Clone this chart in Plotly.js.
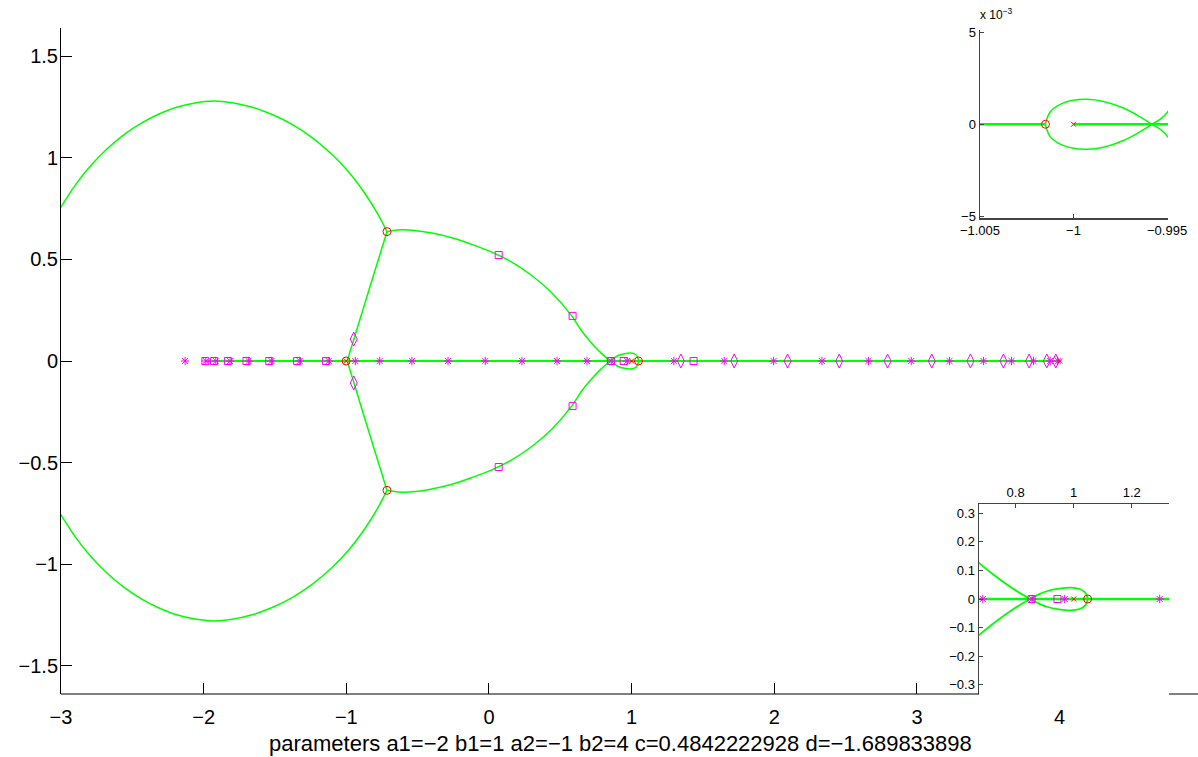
<!DOCTYPE html>
<html>
<head>
<meta charset="utf-8">
<script src="https://cdn.plot.ly/plotly-3.0.1.min.js"></script>
<style>html,body{margin:0;padding:0;background:#fff;}#chart{width:1198px;height:757px;}</style>
</head>
<body>
<div id="chart"></div>
<script>
// ---- root locus branches ----
var outerUpX = [-3.02, -2.985, -2.90, -2.80, -2.68, -2.56, -2.44, -2.32, -2.19, -2.06, -1.93, -1.80, -1.66, -1.52, -1.38, -1.24, -1.10, -0.98, -0.86, -0.78, -0.715];
var outerUpY = [0.734, 0.775, 0.866, 0.955, 1.043, 1.114, 1.170, 1.214, 1.250, 1.271, 1.280, 1.272, 1.250, 1.214, 1.165, 1.100, 1.017, 0.928, 0.815, 0.724, 0.637];
var outerLoX = [-3.02, -2.985, -2.90, -2.80, -2.68, -2.56, -2.44, -2.32, -2.19, -2.06, -1.93, -1.80, -1.66, -1.52, -1.38, -1.24, -1.10, -0.98, -0.86, -0.78, -0.715];
var outerLoY = [-0.734, -0.775, -0.866, -0.955, -1.043, -1.114, -1.170, -1.214, -1.250, -1.271, -1.280, -1.272, -1.250, -1.214, -1.165, -1.100, -1.017, -0.928, -0.815, -0.724, -0.637];

// loop near -1 (upper half) continuing into the lower straight branch
var branchAX = [-1.00151, -1.00125, -1.00071, -1.0, -0.99929, -0.9984, -0.99733, -0.99644, -0.99582, -0.99498, -0.85, -0.715];
var branchAY = [0, 0.00067, 0.00108, 0.0013, 0.00135, 0.00124, 0.00088, 0.0004, 0, -0.00065, -0.33, -0.637];
var branchBX = [-1.00151, -1.00125, -1.00071, -1.0, -0.99929, -0.9984, -0.99733, -0.99644, -0.99582, -0.99498, -0.85, -0.715];
var branchBY = [0, -0.00067, -0.00108, -0.0013, -0.00135, -0.00124, -0.00088, -0.0004, 0, 0.00065, 0.33, 0.637];

var innerUpX = [-0.715, -0.64, -0.52, -0.40, -0.26, -0.12, 0.02, 0.16, 0.30, 0.44, 0.58, 0.65, 0.72, 0.785, 0.85];
var innerUpY = [0.637, 0.645, 0.643, 0.630, 0.607, 0.574, 0.536, 0.487, 0.421, 0.336, 0.222, 0.148, 0.088, 0.040, 0];
var innerLoX = [-0.715, -0.64, -0.52, -0.40, -0.26, -0.12, 0.02, 0.16, 0.30, 0.44, 0.58, 0.65, 0.72, 0.785, 0.85];
var innerLoY = [-0.637, -0.645, -0.643, -0.630, -0.607, -0.574, -0.536, -0.487, -0.421, -0.336, -0.222, -0.148, -0.088, -0.040, 0];

var loopUpX = [0.85, 0.88, 0.91, 0.95, 0.99, 1.02, 1.038, 1.046, 1.048];
var loopUpY = [0, 0.016, 0.028, 0.036, 0.0395, 0.035, 0.024, 0.01, 0];
var loopLoX = [0.85, 0.88, 0.91, 0.95, 0.99, 1.02, 1.038, 1.046, 1.048];
var loopLoY = [0, -0.016, -0.028, -0.036, -0.0395, -0.035, -0.024, -0.01, 0];

var realLeftX = [-1.99, -1.00151];
var realLeftY = [0, 0];
var realRightX = [-1.0, 4.0];
var realRightY = [0, 0];

// ---- markers ----
var squareX = [-1.988, -1.927, -1.83, -1.70, -1.54, -1.345, -1.142, 0.068, 0.068, 0.586, 0.586, 0.855, 0.944, 1.434];
var squareY = [0, 0, 0, 0, 0, 0, 0, 0.522, -0.522, 0.222, -0.222, 0, 0, 0];
var starX = [-2.13, -1.985, -1.915, -1.815, -1.685, -1.525, -1.327, -1.123, -0.937, -0.766, -0.54, -0.287, -0.026, 0.231, 0.477, 0.687, 0.857, 0.969, 1.296, 1.649, 1.995, 2.334, 2.66, 2.96, 3.228, 3.466, 3.663, 3.817, 3.934, 3.987];
var starY = [0, 0, 0, 0, 0, 0, 0, 0, 0, 0, 0, 0, 0, 0, 0, 0, 0, 0, 0, 0, 0, 0, 0, 0, 0, 0, 0, 0, 0, 0];
var diamondX = [-0.948, -0.948, 1.345, 1.719, 2.093, 2.455, 2.794, 3.104, 3.375, 3.606, 3.786, 3.91, 3.973];
var diamondY = [0.108, -0.108, 0, 0, 0, 0, 0, 0, 0, 0, 0, 0, 0];
var zeroX = [-0.715, -0.715, -1.0015, 1.048];
var zeroY = [0.637, -0.637, 0, 0];
var poleX = [-1.0, 1.0, 4.0];
var poleY = [0, 0, 0];

// ---- tick labels ----
var mainXTicks = [-3, -2, -1, 0, 1, 2, 3, 4];
var mainYTicks = [-1.5, -1, -0.5, 0, 0.5, 1, 1.5];
var topInsetXTicks = [-1.005, -1, -0.995];
var topInsetXText = ['\u22121.005', '\u22121', '\u22120.995'];
var topInsetYTicks = [-0.005, 0, 0.005];
var topInsetYText = ['\u22125', '0', '5'];
var botInsetXTicks = [0.8, 1, 1.2];
var botInsetXText = ['0.8', '1', '1.2'];
var botInsetYTicks = [-0.3, -0.2, -0.1, 0, 0.1, 0.2, 0.3];
var botInsetYText = ['\u22120.3', '\u22120.2', '\u22120.1', '0', '0.1', '0.2', '0.3'];
var xLabel = 'parameters a1=\u22122 b1=1 a2=\u22121 b2=4 c=0.4842222928 d=\u22121.689833898';

var GREEN = '#00ff00', MAG = '#ff00ff', RED = '#ff0000';
var traces = [];
function addSet(xa, ya, lw, lwAxis) {
  function line(x, y, w, shape) {
    traces.push({x: x, y: y, xaxis: xa, yaxis: ya, mode: 'lines', hoverinfo: 'skip',
      line: {color: GREEN, width: w, shape: shape || 'linear', smoothing: 1}});
  }
  line(realLeftX, realLeftY, lwAxis);
  line(realRightX, realRightY, lwAxis);
  line(outerUpX, outerUpY, lw, 'spline');
  line(outerLoX, outerLoY, lw, 'spline');
  line(branchAX, branchAY, lw, 'spline');
  line(branchBX, branchBY, lw, 'spline');
  line(innerUpX, innerUpY, lw, 'spline');
  line(innerLoX, innerLoY, lw, 'spline');
  line(loopUpX, loopUpY, lw, 'spline');
  line(loopLoX, loopLoY, lw, 'spline');
  function mk(x, y, sym, col, size) {
    traces.push({x: x, y: y, xaxis: xa, yaxis: ya, mode: 'markers', hoverinfo: 'skip',
      marker: {symbol: sym, size: size, color: col, line: {color: col, width: 1}}});
  }
  mk(squareX, squareY, 'square-open', MAG, 7);
  mk(starX, starY, 'asterisk-open', MAG, 7);
  mk(diamondX, diamondY, 'diamond-tall-open', MAG, 10);
  mk(zeroX, zeroY, 'circle-open', RED, 8);
  mk(poleX, poleY, 'x-thin-open', RED, 5);
}
addSet('x', 'y', 1.5, 2);
addSet('x2', 'y2', 1.5, 2.5);
addSet('x3', 'y3', 1.8, 2.5);

var fam = 'Liberation Sans, Arial, sans-serif';
var W = 1137, H = 666, L = 61;
function px2fx(p) { return (p - L) / W; }
function py2fy(p) { return (694 - p) / H; }

var layout = {
  width: 1198, height: 757,
  margin: {l: 61, r: 0, t: 28, b: 63},
  paper_bgcolor: '#ffffff', plot_bgcolor: '#ffffff',
  showlegend: false,
  font: {family: fam, color: '#000', size: 20},
  xaxis: {
    domain: [0, 1], range: [-3, 4.97], tickmode: 'array', tickvals: mainXTicks,
    ticks: 'inside', ticklen: 11, tickcolor: '#000', tickwidth: 1,
    showline: false, showgrid: false, zeroline: false, ticklabelstandoff: 9,
    tickfont: {size: 20, family: fam, color: '#000'}
  },
  yaxis: {
    domain: [0, 1], range: [-1.64, 1.64], tickmode: 'array', tickvals: mainYTicks,
    ticks: 'inside', ticklen: 11, tickcolor: '#000', tickwidth: 1,
    showline: true, linecolor: '#000', linewidth: 1, ticklabelstandoff: -2,
    showgrid: false, zeroline: false,
    tickfont: {size: 20, family: fam, color: '#000'}
  },
  xaxis2: {
    anchor: 'y2', domain: [px2fx(980), px2fx(1168)], range: [-1.005, -0.99495],
    tickmode: 'array', tickvals: topInsetXTicks, ticktext: topInsetXText,
    ticks: 'inside', ticklen: 4, tickcolor: '#444',
    showline: true, linecolor: '#444', linewidth: 1.5, showgrid: false, zeroline: false,
    tickfont: {size: 13, family: fam, color: '#000'}
  },
  yaxis2: {
    anchor: 'x2', domain: [py2fy(218), py2fy(30)], range: [-0.00508, 0.00511],
    tickmode: 'array', tickvals: topInsetYTicks, ticktext: topInsetYText,
    ticks: 'inside', ticklen: 4, tickcolor: '#444',
    showline: true, linecolor: '#444', linewidth: 1.5, showgrid: false, zeroline: false,
    tickfont: {size: 13, family: fam, color: '#000'}
  },
  xaxis3: {
    anchor: 'y3', side: 'top', domain: [px2fx(979), px2fx(1169)], range: [0.674, 1.328],
    tickmode: 'array', tickvals: botInsetXTicks, ticktext: botInsetXText,
    ticks: 'inside', ticklen: 4, tickcolor: '#444',
    showline: true, linecolor: '#444', linewidth: 1.5, showgrid: false, zeroline: false,
    tickfont: {size: 13, family: fam, color: '#000'}
  },
  yaxis3: {
    anchor: 'x3', domain: [0, py2fy(504)], range: [-0.332, 0.332],
    tickmode: 'array', tickvals: botInsetYTicks, ticktext: botInsetYText,
    ticks: 'inside', ticklen: 4, tickcolor: '#444',
    showline: true, linecolor: '#444', linewidth: 1.5, showgrid: false, zeroline: false,
    tickfont: {size: 13, family: fam, color: '#000'}
  },
  shapes: [
    {type: 'line', xref: 'paper', yref: 'paper', x0: 0, x1: px2fx(979), y0: 0, y1: 0,
     line: {color: '#000', width: 1}, layer: 'above'},
    {type: 'line', xref: 'paper', yref: 'paper', x0: px2fx(1169), x1: 1, y0: 0, y1: 0,
     line: {color: '#000', width: 1}, layer: 'above'}
  ],
  annotations: [
    {xref: 'paper', yref: 'paper', x: px2fx(978), y: py2fy(24), xanchor: 'left', yanchor: 'bottom',
     showarrow: false, text: 'x 10<sup>\u22123</sup>', font: {size: 12, family: fam, color: '#000'}},
    {xref: 'paper', yref: 'paper', x: px2fx(620), y: py2fy(743), xanchor: 'center', yanchor: 'middle',
     showarrow: false, text: xLabel, font: {size: 22, family: fam, color: '#000'}}
  ]
};

Plotly.newPlot('chart', traces, layout, {displayModeBar: false, staticPlot: true});
</script>
</body>
</html>
